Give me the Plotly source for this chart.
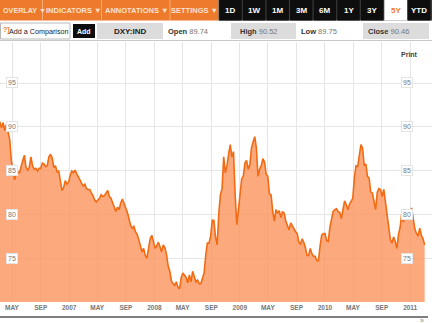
import pandas as pd
import plotly.graph_objects as go

# Weekly closes of the US Dollar Index (DXY:IND), Friday to Friday
dxy_2006 = [90.6, 89.9, 90.5, 89.6, 90.3, 89.4, 88.6, 86.2, 84.8, 84.0, 84.6, 84.9, 84.8,
            85.6, 86.2, 86.8, 85.4, 85.1, 85.4, 86.6, 85.6, 85.2, 85.3, 85.0, 85.3, 85.3,
            85.9, 85.8, 85.5, 85.6, 86.6, 86.9, 86.5, 85.4, 85.6, 84.9, 85.0, 83.9, 82.8,
            83.1, 83.9, 83.5, 83.7]
dxy_2007 = [84.5, 85.0, 84.8, 85.1, 84.7, 84.4, 84.0, 83.6, 83.3, 83.5, 83.0, 82.9, 82.9,
            82.5, 82.2, 81.7, 81.5, 81.7, 81.9, 82.3, 82.1, 82.2, 82.5, 82.8, 82.1, 81.9,
            81.4, 80.9, 80.4, 80.9, 80.6, 81.4, 81.8, 81.3, 80.9, 80.3, 79.6, 78.8, 78.5,
            78.7, 78.1, 77.8, 77.2, 76.4, 75.8, 76.2, 75.4, 75.1, 76.3, 77.3, 77.7, 76.9]
dxy_2008 = [76.2, 76.5, 76.9, 76.4, 75.8, 76.6, 76.3, 75.5, 74.2, 73.6, 72.5, 72.2, 72.0,
            72.4, 71.8, 71.6, 72.9, 73.4, 73.1, 72.9, 72.3, 73.2, 72.4, 73.6, 73.0, 72.4,
            72.6, 72.2, 72.2, 72.9, 73.4, 75.4, 76.8, 76.8, 77.6, 79.4, 79.4, 77.5, 76.6,
            80.2, 82.3, 83.0, 86.6, 84.8, 85.6, 86.9, 88.0, 86.6, 87.2, 82.3, 78.9, 80.6]
dxy_2009 = [82.3, 84.1, 84.4, 85.9, 86.2, 85.2, 85.7, 87.6, 88.3, 88.9, 87.6, 84.4, 85.2,
            85.6, 86.4, 86.0, 84.6, 84.4, 82.4, 82.3, 80.4, 79.3, 80.6, 80.2, 80.5, 79.7,
            80.4, 80.2, 79.3, 78.8, 78.3, 79.1, 78.7, 78.3, 78.1, 77.9, 76.9, 76.7, 77.3,
            76.9, 76.3, 75.4, 75.4, 76.2, 75.6, 75.3, 75.3, 74.8, 74.8, 76.5, 77.7, 77.9]
dxy_2010 = [77.9, 77.1, 77.0, 78.6, 79.4, 80.4, 80.6, 80.7, 80.4, 80.3, 79.6, 80.6, 81.6,
            81.2, 80.6, 81.2, 81.6, 81.9, 84.3, 85.6, 85.5, 86.7, 88.0, 87.6, 85.6, 85.8,
            84.4, 84.2, 82.6, 82.5, 81.6, 80.6, 82.6, 83.0, 82.9, 82.1, 82.9, 81.5, 79.7,
            78.4, 77.2, 76.8, 77.5, 77.0, 76.2, 77.8, 78.6, 80.2, 79.2, 80.1, 80.4, 80.4,
            79.6]
dxy_2011 = [80.8, 79.3, 78.4, 77.9, 77.6, 78.5, 77.7, 77.3, 76.6]

closes = dxy_2006 + dxy_2007 + dxy_2008 + dxy_2009 + dxy_2010 + dxy_2011
dates = pd.date_range("2006-03-10", periods=len(closes), freq="7D")

x_tick_dates = ["2006-05-01", "2006-09-01", "2007-01-01", "2007-05-01", "2007-09-01",
                "2008-01-01", "2008-05-01", "2008-09-01", "2009-01-01", "2009-05-01",
                "2009-09-01", "2010-01-01", "2010-05-01", "2010-09-01", "2011-01-01"]
x_tick_text = ["MAY", "SEP", "2007", "MAY", "SEP", "2008", "MAY", "SEP", "2009",
               "MAY", "SEP", "2010", "MAY", "SEP", "2011"]
y_ticks = [75, 80, 85, 90, 95]

menu_items = ["OVERLAY ▼", "INDICATORS ▼", "ANNOTATIONS ▼", "SETTINGS ▼"]
range_buttons = ["1D", "1W", "1M", "3M", "6M", "1Y", "3Y", "5Y", "YTD"]
active_range = "5Y"
quote_fields = [("Open", "89.74"), ("High", "90.52"), ("Low", "89.75"), ("Close", "90.46")]

W, H = 432, 323
FONT = "Liberation Sans"
ORANGE = "#EE7A2C"


def px(x):
    return x / W


def py(y):
    return 1 - y / H


fig = go.Figure()
fig.add_trace(go.Scatter(
    x=dates, y=closes, mode="lines",
    line=dict(color="#F26A12", width=1.6),
    fill="tozeroy", fillcolor="rgba(251,149,92,0.8)",
    hoverinfo="skip", showlegend=False,
))

shapes = []
annotations = []


def rect(x0, y0, x1, y1, fill, line=None):
    shapes.append(dict(type="rect", xref="paper", yref="paper",
                       x0=px(x0), x1=px(x1), y0=py(y1), y1=py(y0),
                       fillcolor=fill, line=dict(width=1 if line else 0, color=line or fill),
                       layer="above"))


def text(x, y, s, size=7, color="#333", anchor="center", weight="normal"):
    annotations.append(dict(xref="paper", yref="paper", x=px(x), y=py(y), text=s,
                            showarrow=False, xanchor=anchor, yanchor="middle",
                            font=dict(family=FONT, size=size, color=color, weight=weight)))


# top menu bar
rect(0, 0, 218.5, 20.5, ORANGE)
for sx in [42.5, 101.5, 170]:
    shapes.append(dict(type="line", xref="paper", yref="paper", x0=px(sx), x1=px(sx),
                       y0=py(20.5), y1=py(0), line=dict(color="#F6AC78", width=1), layer="above"))
text(0.5, 10.5, menu_items[0], size=7.2, color="#FDE2CE", anchor="left", weight="bold")
for label, cx in zip(menu_items[1:], [73, 136.5, 194.5]):
    text(cx, 10.5, label, size=7.5, color="#FDE2CE", weight="bold")

rect(218.5, 0, 432, 20.5, "#3a3a3a")
for i, label in enumerate(range_buttons):
    cx = 230.5 + i * 23.6
    if label == active_range:
        rect(cx - 11.4, 0, cx + 11.4, 20.5, "#FFFFFF")
        text(cx, 10.5, label, size=8, color="#F07A2A", weight="bold")
    else:
        rect(cx - 11.2, 0, cx + 11.2, 20.5, "#0E0E0E")
        text(cx, 10.5, label, size=8, color="#FFFFFF", weight="bold")

# comparison / quote row
rect(0.5, 23, 70, 39, "#FFFFFF", line="#B8B8B8")
text(0.5, 30.5, "?]", size=7, color="#F07A2A", anchor="left", weight="bold")
text(7, 31, "Add a Comparison", size=7.2, color="#222", anchor="left")
rect(73, 24, 95, 38, "#0E0E0E")
text(84, 31, "Add", size=7, color="#FFFFFF", weight="bold")
rect(97, 23, 163, 39, "#DCDCDC")
text(130, 31, "DXY:IND", size=8, color="#222", weight="bold")
rect(231, 23, 296, 39, "#DCDCDC")
rect(363, 23, 429, 39, "#DCDCDC")
for (name, val), tx in zip(quote_fields, [166, 238, 299, 366]):
    text(tx, 31, f"<b>{name}</b> <span style='color:#777'>{val}</span>",
         size=7.5, color="#333", anchor="left")
shapes.append(dict(type="line", xref="paper", yref="paper", x0=0, x1=1,
                   y0=py(40.5), y1=py(40.5), line=dict(color="#C8C8C8", width=1)))

# price labels on both sides of the plot
for v in y_ticks:
    for cx in [11.5, 406.5]:
        annotations.append(dict(xref="paper", yref="y", x=px(cx), y=v, text=str(v),
                                showarrow=False, xanchor="center", yanchor="middle",
                                bgcolor="#FFFFFF", bordercolor="#E4E4E4", borderwidth=1,
                                borderpad=1,
                                font=dict(family=FONT, size=7, color="#777")))
text(409.5, 55, "Print", size=7, color="#444", weight="bold")

# bottom rule and pager
shapes.append(dict(type="line", xref="paper", yref="paper", x0=0, x1=px(428),
                   y0=py(317), y1=py(317), line=dict(color="#555", width=1.5)))
text(421.5, 320.5, "»", size=7, color="#888")

fig.update_layout(
    width=W, height=H,
    margin=dict(l=0, r=0, t=0, b=0),
    paper_bgcolor="#FFFFFF", plot_bgcolor="#FFFFFF",
    shapes=shapes, annotations=annotations,
    xaxis=dict(type="date", range=["2006-03-10 12:00", "2011-04-04 12:00"],
               domain=[0, 1], tickvals=x_tick_dates, ticktext=x_tick_text,
               showgrid=True, gridcolor="#E6E6E6", gridwidth=1,
               showline=False, zeroline=False, ticks="",
               tickfont=dict(family=FONT, size=6.5, color="#777", weight="bold")),
    yaxis=dict(range=[70.11, 99.66], domain=[py(302), py(42)],
               tickvals=y_ticks, showticklabels=False,
               showgrid=True, gridcolor="#E6E6E6", gridwidth=1,
               showline=False, zeroline=False, ticks=""),
)

fig.write_html("out.html")
